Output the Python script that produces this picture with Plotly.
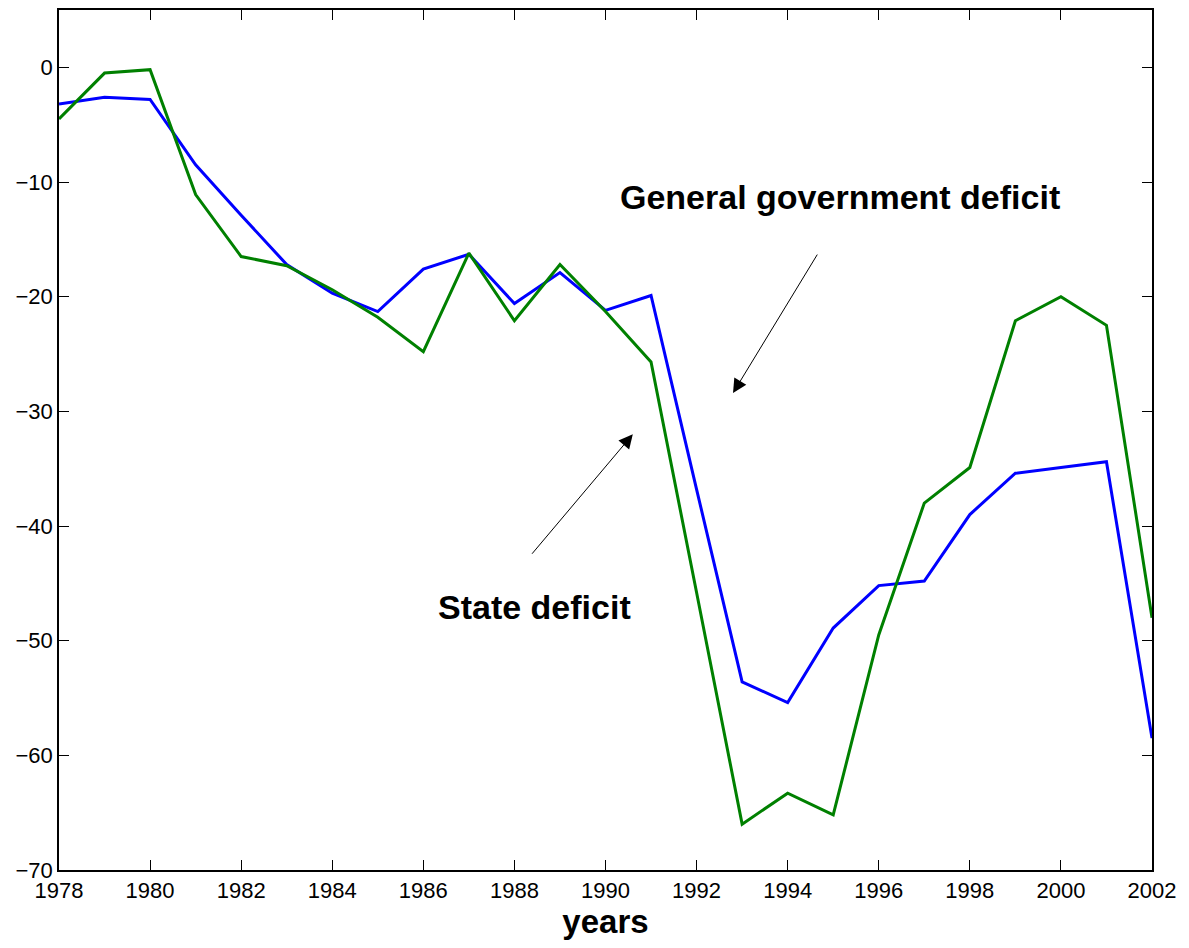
import plotly.graph_objects as go

years = list(range(1978, 2003))
general_government = [-3.2, -2.6, -2.8, -8.5, -12.9, -17.2, -19.7, -21.3, -17.6, -16.3,
                      -20.6, -17.9, -21.2, -19.9, -36.8, -53.6, -55.4, -48.9, -45.2, -44.8,
                      -39.0, -35.4, -34.9, -34.4, -58.5]
state = [-4.5, -0.5, -0.2, -11.1, -16.5, -17.3, -19.4, -21.8, -24.8, -16.2,
         -22.1, -17.2, -21.3, -25.7, -45.8, -66.0, -63.3, -65.2, -49.5, -38.0,
         -34.9, -22.1, -20.0, -22.5, -48.0]
x_ticks = list(range(1978, 2003, 2))
y_ticks = list(range(-70, 1, 10))

fig = go.Figure()
fig.add_trace(go.Scatter(x=years, y=general_government, mode="lines",
                         line=dict(color="#0000FF", width=3), name="General government deficit"))
fig.add_trace(go.Scatter(x=years, y=state, mode="lines",
                         line=dict(color="#008000", width=3), name="State deficit"))

font_family = "Liberation Sans, Arial, sans-serif"
fig.update_layout(
    width=1189, height=948,
    margin=dict(l=59, r=37, t=8, b=78),
    paper_bgcolor="white", plot_bgcolor="white",
    showlegend=False,
    font=dict(family=font_family, color="black", size=22),
)
fig.update_xaxes(
    range=[1978, 2002], tickvals=x_ticks, ticktext=[str(v) for v in x_ticks],
    ticks="inside", ticklen=10, tickwidth=1, tickcolor="black",
    showline=True, linecolor="black", linewidth=1.5, mirror="allticks",
    showgrid=False, zeroline=False,
    tickfont=dict(size=22),
    title=dict(text="<b>years</b>", font=dict(size=33), standoff=2),
)
fig.update_yaxes(
    range=[-70, 5], tickvals=y_ticks,
    ticks="inside", ticklen=10, tickwidth=1, tickcolor="black",
    showline=True, linecolor="black", linewidth=1.5, mirror="allticks",
    showgrid=False, zeroline=False,
    tickfont=dict(size=22),
)

fig.add_annotation(x=1995.15, y=-11.3, xref="x", yref="y", text="<b>General government deficit</b>",
                   showarrow=False, font=dict(size=34))
fig.add_annotation(x=1988.43, y=-47.1, xref="x", yref="y", text="<b>State deficit</b>",
                   showarrow=False, font=dict(size=34))
fig.add_annotation(x=1992.80, y=-28.4, ax=1994.67, ay=-16.2, xref="x", yref="y",
                   axref="x", ayref="y", text="", showarrow=True,
                   arrowhead=2, arrowsize=2.8, arrowwidth=1, arrowcolor="black")
fig.add_annotation(x=1990.60, y=-32.0, ax=1988.36, ay=-42.55, xref="x", yref="y",
                   axref="x", ayref="y", text="", showarrow=True,
                   arrowhead=2, arrowsize=2.8, arrowwidth=1, arrowcolor="black")

fig.write_html("out.html")
